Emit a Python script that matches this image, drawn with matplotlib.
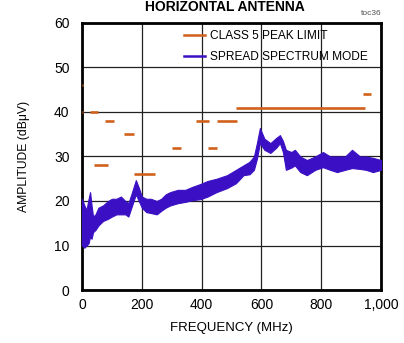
import matplotlib
matplotlib.use("Agg")
import matplotlib.pyplot as plt
from matplotlib.lines import Line2D

# CLASS 5 peak limit segments (start MHz, end MHz, level dBuV)
limit_start = [0, 0, 26, 41, 76, 142, 174, 300, 380, 420, 450, 515, 940]
limit_end = [2, 2, 54, 88, 108, 175, 245, 330, 425, 450, 518, 945, 965]
limit_level = [46, 40, 40, 28, 38, 35, 26, 32, 38, 32, 38, 41, 44]

# spread spectrum trace, read as upper / lower envelope of the noisy band
freq = [0, 8, 15, 22, 27, 32, 37, 45, 55, 70, 87, 100, 115, 130, 145, 155,
        165, 180, 190, 200, 215, 230, 250, 265, 280, 295, 320, 345, 370, 395,
        420, 450, 485, 515, 540, 560, 575, 585, 595, 610, 630, 650, 662, 672,
        682, 700, 712, 730, 752, 780, 806, 830, 853, 880, 903, 930, 950, 973, 1000]
amp_hi = [20.5, 19.0, 18.0, 20.5, 22.0, 19.0, 16.5, 17.0, 18.5, 19.0, 20.0, 20.5,
          20.5, 21.0, 20.0, 19.5, 21.5, 24.7, 23.0, 21.0, 20.5, 20.5, 20.0, 20.5,
          21.5, 22.0, 22.5, 22.5, 23.2, 23.8, 24.5, 25.0, 25.8, 27.0, 28.0, 28.8,
          30.0, 33.0, 36.4, 34.0, 33.0, 34.2, 34.8, 33.5, 31.5, 31.0, 31.5, 30.0,
          29.2, 30.0, 31.0, 30.0, 30.0, 30.0, 31.5, 30.0, 30.0, 29.7, 29.2]
amp_lo = [10.0, 9.5, 10.0, 10.5, 12.0, 11.5, 13.0, 13.5, 14.5, 15.5, 16.0, 16.5,
          17.0, 17.0, 17.0, 16.5, 18.5, 21.5, 20.0, 18.5, 17.5, 17.3, 17.0, 17.8,
          18.5, 19.0, 19.5, 19.8, 20.2, 20.4, 21.0, 22.0, 22.9, 24.0, 25.8, 26.0,
          27.0, 29.5, 33.0, 31.5, 30.8, 32.0, 33.0, 31.0, 27.0, 27.5, 28.0, 26.5,
          25.8, 27.0, 27.6, 27.0, 26.5, 27.0, 27.4, 27.2, 27.0, 26.5, 27.0]

x_ticks = [0, 200, 400, 600, 800, 1000]
x_tick_labels = ["0", "200", "400", "600", "800", "1,000"]
y_ticks = [0, 10, 20, 30, 40, 50, 60]

orange = "#d0601a"
blue = "#3b10c4"

plt.rcParams["font.family"] = ["Liberation Sans", "DejaVu Sans"]

fig = plt.figure(figsize=(4.04, 3.43), dpi=100)
ax = fig.add_axes([0.203, 0.1545, 0.740, 0.7785])

ax.hlines(limit_level, limit_start, limit_end, color=orange, lw=1.9, zorder=3)
ax.fill_between(freq, amp_lo, amp_hi, color=blue, lw=0.8, edgecolor=blue, zorder=4)

ax.set_xlim(0, 1000)
ax.set_ylim(0, 60)
ax.set_xticks(x_ticks)
ax.set_xticklabels(x_tick_labels)
ax.set_yticks(y_ticks)
ax.tick_params(length=0, labelsize=10)
ax.tick_params(axis="y", pad=9)
ax.tick_params(axis="x", pad=6)
ax.grid(True, color="#222222", lw=0.9)
ax.set_axisbelow(True)
for s in ax.spines.values():
    s.set_linewidth(2)

ax.set_xlabel("FREQUENCY (MHz)", fontsize=9.5, labelpad=7)
ax.set_ylabel("AMPLITUDE (dB\u03bcV)", fontsize=8.7, labelpad=17)

handles = [Line2D([], [], color=orange, lw=1.8),
           Line2D([], [], color=blue, lw=1.8)]
ax.legend(handles, ["CLASS 5 PEAK LIMIT", "SPREAD SPECTRUM MODE"],
          loc="upper left", bbox_to_anchor=(0.325, 0.99), frameon=False,
          fontsize=8.6, handlelength=1.75, handletextpad=0.4, labelspacing=0.75,
          borderaxespad=0)

fig.text(0.557, 1.0, "HORIZONTAL ANTENNA", ha="center", va="top",
         fontsize=10, fontweight="bold")
fig.text(0.945, 0.962, "toc36", ha="right", va="center", fontsize=6, color="#555555")

fig.savefig("out.png", dpi=100)
